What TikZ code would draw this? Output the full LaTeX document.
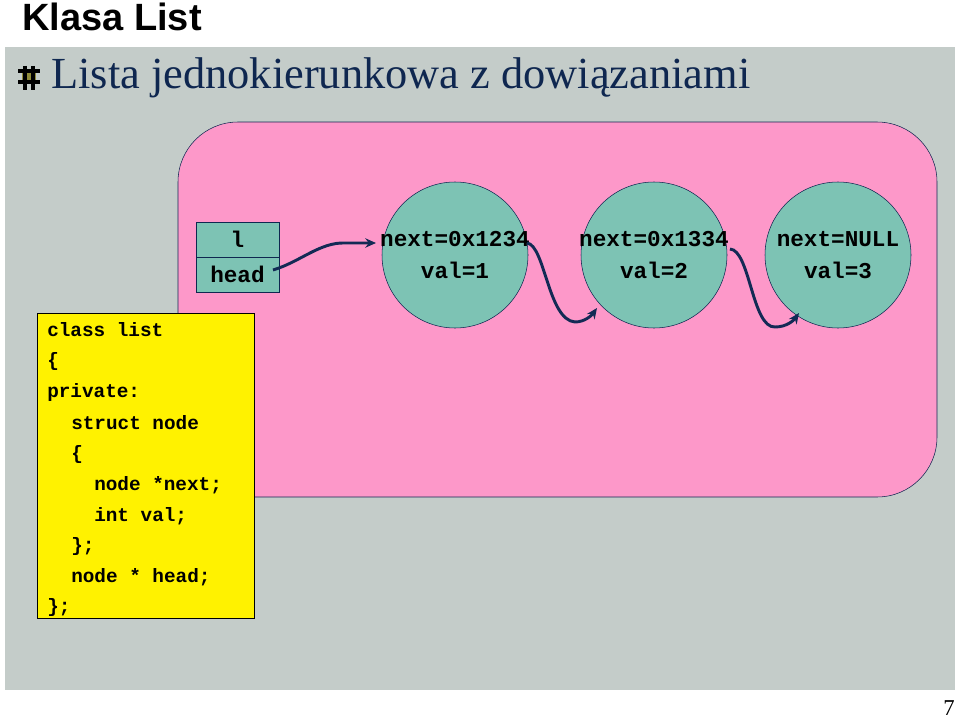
\documentclass[tikz,border=0pt]{standalone}
\usepackage{fontspec}
\setmainfont{Liberation Serif}
\setsansfont{Liberation Sans}
\setmonofont{Liberation Mono}
\usetikzlibrary{arrows.meta}
\definecolor{panel}{HTML}{C4CCC9}
\definecolor{pinkf}{HTML}{FD98C9}
\definecolor{teal}{HTML}{7DC3B4}
\definecolor{navy}{HTML}{0F2750}
\definecolor{arr}{HTML}{132A55}
\tikzset{
  circ/.style={circle,draw=navy,fill=teal,minimum size=109.5pt,inner sep=0},
  circtext/.style={align=center,inner sep=0,font=\ttfamily\bfseries\fontsize{17}{24}\selectfont},
  cell/.style={rectangle,draw=navy,fill=teal,minimum width=62pt,minimum height=26pt,inner sep=0,font=\ttfamily\bfseries\fontsize{17}{20}\selectfont},
  link/.style={draw=arr,line width=2.2pt,-{Stealth[length=8pt,width=7pt]}},
  codeline/.style={anchor=west,inner sep=0,font=\ttfamily\bfseries\fontsize{14.5}{16}\selectfont}
}
\begin{document}
\begin{tikzpicture}[x=0.75pt,y=-0.75pt]
\useasboundingbox (0,0) rectangle (960,717);
\fill[white] (0,0) rectangle (960,717);
\fill[panel] (5,47) rectangle (955,690);
\node[anchor=west,inner sep=0,font=\sffamily\bfseries\fontsize{28.5}{30}\selectfont] (klasa) at (22,17) {Klasa List};
\node[anchor=east,inner sep=0,font=\fontsize{17}{18}\selectfont] (pg) at (955,708) {7};
% bullet
\fill[olive!60!gray] (22,70) rectangle (36,84);
\draw[line width=2.5pt,black] (25,66)--(25,90) (33,66)--(33,90) (18,71)--(40,71) (18,82)--(40,82);
\node[anchor=west,inner sep=0,text=navy,font=\fontsize{33.3}{36}\selectfont] (title) at (51,78) {Lista jednokierunkowa z dowiązaniami};
% pink area
\draw[navy,fill=pinkf,rounded corners=45] (178,122) rectangle (937,497);
% head box
\node[cell] (l) at (237.5,239.5) {l};
\node[cell] (head) at (237.5,274.5) {head};
% circles
\node[circ] (n1) at (455,255) {};
\node[circ] (n2) at (654,255) {};
\node[circ] (n3) at (838,255) {};
\node[circtext] (t1) at (n1) {next=0x1234\\val=1};
\node[circtext] (t2) at (n2) {next=0x1334\\val=2};
\node[circtext] (t3) at (n3) {next=NULL\\val=3};
% arrows
\coordinate (h0) at (273,270);
\coordinate (a0) at (527,243);
\coordinate (b0) at (730,249);
\draw[link] (h0) .. controls (300,262) and (320,242) .. (345,243) -- (376,243);
\draw[link] (a0) .. controls (545,245) and (548,320) .. (575,322) .. controls (585,322) and (592,315) .. (597,308);
\draw[link] (b0) .. controls (750,250) and (752,328) .. (775,327) .. controls (787,327) and (794,320) .. (799,313);
% code box
\draw[black,fill=yellow] (37,313) rectangle (254,618);
\node[codeline] (c1) at (47,330) {class list};
\node[codeline] (c2) at (47,361) {\{};
\node[codeline] (c3) at (47,392) {private:};
\node[codeline] (c4) at (71,423) {struct node};
\node[codeline] (c5) at (71,454) {\{};
\node[codeline] (c6) at (94,485) {node *next;};
\node[codeline] (c7) at (94,516) {int val;};
\node[codeline] (c8) at (71,546) {\};};
\node[codeline] (c9) at (71,577) {node * head;};
\node[codeline] (c10) at (47,607) {\};};
\end{tikzpicture}
\end{document}
